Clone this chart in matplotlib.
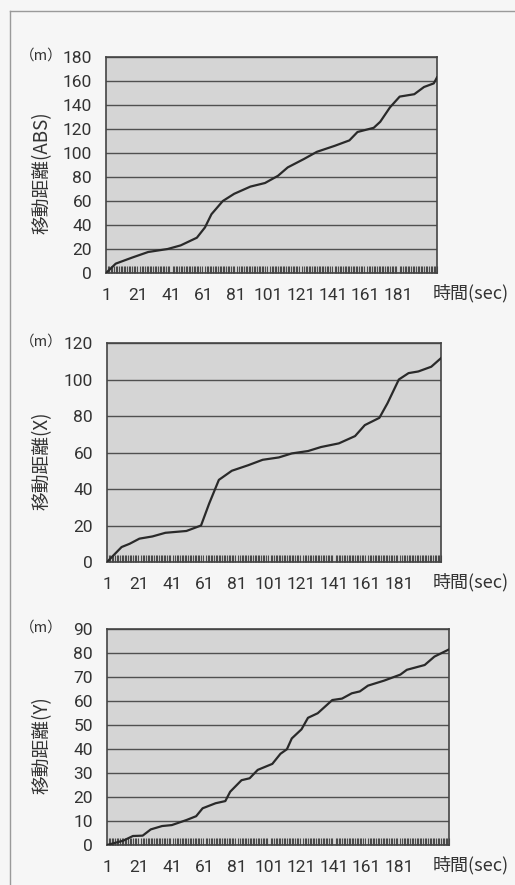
import numpy as np
import matplotlib.pyplot as plt

# 日本語フォント
plt.rcParams['font.family'] = ['Noto Sans CJK JP', 'DejaVu Sans']

# 読み取りデータ（時間 sec, 移動距離 m）
t_abs = [1, 7, 17, 27, 39, 47, 57, 62, 66, 73, 80, 90, 99, 107, 113, 123,
         131, 142, 151, 156, 166, 170, 176, 182, 191, 197, 203, 205]
d_abs = [0, 7.8, 12.8, 17.5, 20, 23, 29.4, 38, 49, 60, 66, 72, 75, 81, 88, 95,
         101, 106, 110.5, 117.5, 121, 126, 138, 147, 149, 155, 158, 163]

t_x = [1, 10, 15, 21, 29, 37, 50, 59, 64, 70, 78, 88, 97, 107, 115, 125,
       133, 144, 154, 160, 169, 174, 181, 187, 193, 201, 207]
d_x = [0, 8.2, 10, 12.8, 14, 16, 17, 20, 32, 45, 50, 53, 56, 57.3, 59.5, 60.8,
       63, 65, 69, 75, 79, 87, 100, 103.5, 104.4, 107, 111.7]

t_y = [1, 11, 17, 23, 28, 35, 41, 50, 56, 60, 68, 74, 77, 84, 89, 94, 103,
       108, 112, 115, 121, 125, 131, 140, 146, 152, 157, 162, 172, 182, 186,
       197, 203, 212]
d_y = [0, 1.8, 3.75, 3.9, 6.5, 7.9, 8.3, 10.4, 12, 15.3, 17.4, 18.3, 22.2, 27,
       27.8, 31.3, 33.8, 38, 39.9, 44.4, 48.2, 53, 54.9, 60.4, 61, 63.2, 64,
       66.4, 68.5, 71, 73, 75, 78.5, 81.5]

x_labels = [1, 21, 41, 61, 81, 101, 121, 141, 161, 181]

# 各グラフ: (データ, y上限, y刻み, ラベル, 軸位置[px], 点数)
charts = [
    (t_abs, d_abs, 180, 20, '移動距離(ABS)', (106, 57, 437, 273), 205),
    (t_x, d_x, 120, 20, '移動距離(X)', (107, 343, 441, 562), 207),
    (t_y, d_y, 90, 10, '移動距離(Y)', (107, 629, 449, 845), 212),
]

W, H = 515, 885
fig = plt.figure(figsize=(W / 100, H / 100), dpi=100)
fig.patch.set_facecolor('#f6f6f6')

# 外枠（スキャン上の罫線）
fig.add_artist(plt.Line2D([10 / W, 10 / W], [0, 1 - 11 / H],
                          color='#9a9a9a', lw=1))
fig.add_artist(plt.Line2D([10 / W, 1], [1 - 11 / H, 1 - 11 / H],
                          color='#9a9a9a', lw=1))

num_font = ['Roboto', 'DejaVu Sans']

for t, d, ymax, ystep, ylabel, (l, top, r, b), n in charts:
    ax = fig.add_axes([l / W, 1 - b / H, (r - l) / W, (b - top) / H])
    ax.set_facecolor('#d5d5d5')
    ax.plot(t, d, color='#2a2a2a', lw=1.6, zorder=3)

    ax.set_xlim(1, n)
    ax.set_ylim(0, ymax)
    ax.set_yticks(np.arange(0, ymax + 1, ystep))
    ax.grid(True, axis='y', color='#505050', lw=1)
    ax.set_axisbelow(True)

    # 横軸: カテゴリ毎の目盛り（下端の帯）
    ax.set_xticks(x_labels)
    ax.set_xticks(np.arange(1, n + 1), minor=True)
    ax.tick_params(axis='x', which='major', length=0, pad=11)
    ax.tick_params(axis='x', which='minor', direction='in', length=5,
                   width=0.8, color='#4a4a4a')
    ax.tick_params(axis='y', length=0, pad=10)
    for lab in ax.get_xticklabels() + ax.get_yticklabels():
        lab.set_family(num_font)
        lab.set_fontsize(12.5)
        lab.set_color('#333333')

    for s in ax.spines.values():
        s.set_color('#444444')
        s.set_linewidth(1.2)

    # 軸ラベル類
    fig.text(42 / W, 1 - ((top + b) / 2 + 8) / H, ylabel, rotation=90,
             ha='center', va='center', fontsize=13.5, color='#333333')
    fig.text(41 / W, 1 - (top - 1) / H, '（m）', ha='center', va='center',
             fontsize=10.5, color='#333333')
    fig.text(471 / W, 1 - (b + 20) / H, '時間(sec)', ha='center', va='center',
             fontsize=13, color='#333333')

plt.savefig('out.png', dpi=100, facecolor=fig.get_facecolor())
